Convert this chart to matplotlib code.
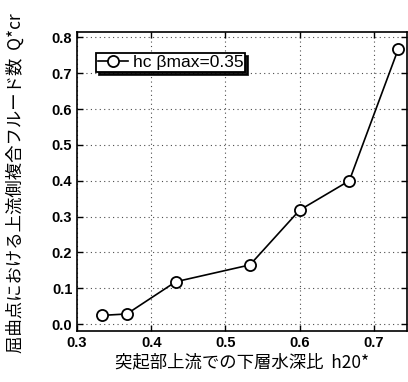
import matplotlib
matplotlib.use("Agg")
import matplotlib.pyplot as plt

plt.rcParams['font.family'] = ['Liberation Sans', 'Noto Sans CJK JP', 'DejaVu Sans']

h20 = [0.333, 0.367, 0.433, 0.533, 0.600, 0.667, 0.733]
qcr = [0.024, 0.028, 0.118, 0.165, 0.318, 0.400, 0.768]
xticks = [0.3, 0.4, 0.5, 0.6, 0.7]
yticks = [0.0, 0.1, 0.2, 0.3, 0.4, 0.5, 0.6, 0.7, 0.8]

fig = plt.figure(figsize=(4.08, 3.82), dpi=100)
ax = fig.add_axes([0.189, 0.134, 0.809, 0.782])

ax.plot(h20, qcr, color='black', lw=1.2, marker='o', markersize=8,
        markerfacecolor='white', markeredgecolor='black', markeredgewidth=1.3,
        label='hc \u03b2max=0.35')

ax.set_xlim(0.3, 0.745)
ax.set_ylim(-0.019, 0.815)
ax.set_xticks(xticks)
ax.set_yticks(yticks)
ax.set_xticklabels(['%.1f' % v for v in xticks], fontsize=10.5, fontweight='bold')
ax.set_yticklabels(['%.1f' % v for v in yticks], fontsize=10.5, fontweight='bold')
ax.tick_params(direction='in', top=True, right=True, length=4, width=1)
ax.grid(True, linestyle=(0, (1, 3)), color='black', lw=0.8, alpha=0.7)
for s in ax.spines.values():
    s.set_linewidth(1.2)

ax.set_xlabel('突起部上流での下層水深比  h20*', fontsize=12.5,
              family=['Noto Sans CJK JP', 'DejaVu Sans'], labelpad=3)
fig.text(0.038, 0.52, '屈曲点における上流側複合フルード数  Q*cr', rotation=90,
         fontsize=12.5, family=['Noto Sans CJK JP', 'DejaVu Sans'],
         ha='center', va='center')

leg = ax.legend(loc='upper left', bbox_to_anchor=(0.057, 0.93), frameon=True,
                fancybox=False, shadow={'color': 'black', 'alpha': 0.9},
                edgecolor='black', fontsize=12.5,
                handlelength=1.7, handletextpad=0.3, borderpad=0.12,
                borderaxespad=0)
leg.get_frame().set_linewidth(1.3)

fig.savefig('out.png', dpi=100)
